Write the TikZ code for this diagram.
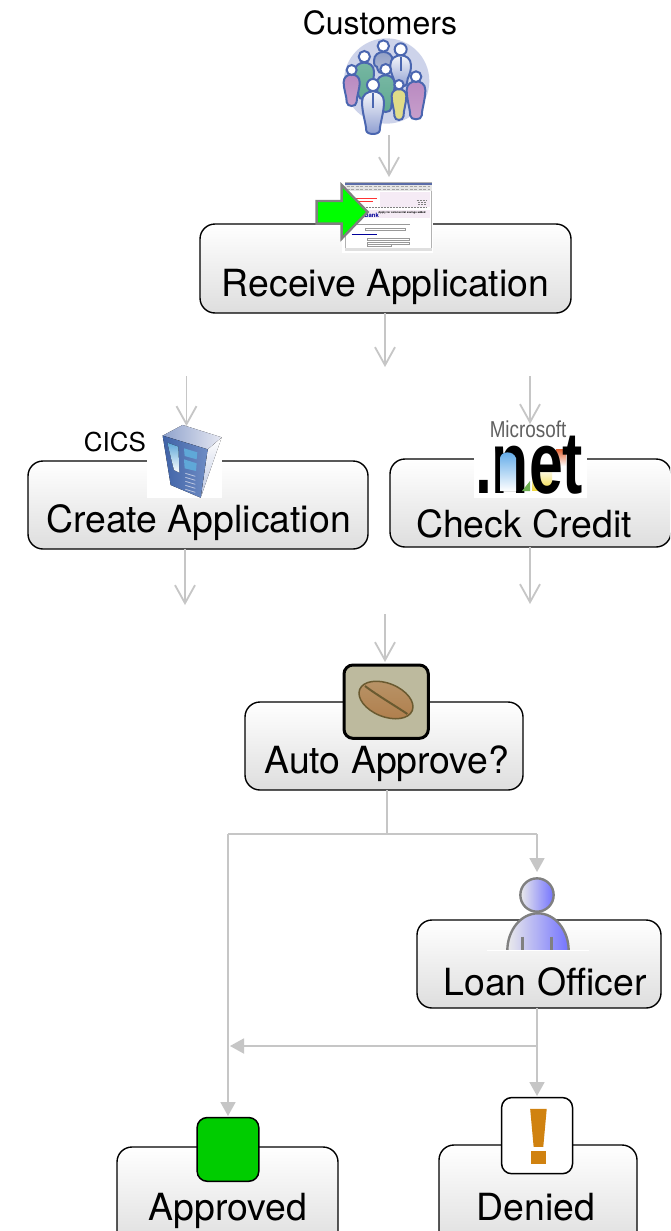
\documentclass[tikz,border=0pt]{standalone}
\usepackage{fontspec}
\setmainfont{TeX Gyre Heros}
\newfontfamily\netfont{Liberation Sans}
\usetikzlibrary{arrows.meta}
\definecolor{flowgray}{HTML}{C6C6C6}
\definecolor{peopleblue}{HTML}{4A66B0}
\definecolor{iconline}{HTML}{808080}
\definecolor{beanbg}{HTML}{BDBA9E}
\definecolor{excl}{HTML}{D08210}
\definecolor{crowdbg}{HTML}{CDD3EA}
\definecolor{pgray}{HTML}{8E9CC4}
\definecolor{pgrayl}{HTML}{B4BED8}
\definecolor{pteal}{HTML}{78B8A4}
\definecolor{ptealdark}{HTML}{5FA890}
\definecolor{ppurple}{HTML}{B888C0}
\definecolor{ppurplel}{HTML}{C8A0CC}
\definecolor{pyellow}{HTML}{E0DC88}
\definecolor{pwhite}{HTML}{8C9CD0}
\definecolor{srvdark}{HTML}{3F62A6}
\definecolor{srvmid}{HTML}{6E8CC4}
\definecolor{srvtop}{HTML}{8FA2CC}
\definecolor{srvlight}{HTML}{E6E8F2}
\definecolor{srvside}{HTML}{BCC6E0}
\definecolor{srvglass}{HTML}{5FA8D8}
\definecolor{beanlight}{HTML}{B89468}
\definecolor{beandark}{HTML}{B07E4C}
\definecolor{beanedge}{HTML}{6A5A30}
\definecolor{netblue}{HTML}{5CA8E8}
\definecolor{netgreen}{HTML}{6CB050}
\definecolor{netyellow}{HTML}{F0D840}
\definecolor{netred}{HTML}{E06030}
\definecolor{titlebar}{HTML}{5A6CA8}
\tikzset{
  stepbox/.style={draw=black,line width=1.4pt,rounded corners=15pt,top color=white,bottom color=black!13,anchor=north west,inner sep=0pt,outer sep=0pt},
  boxtext/.style={font=\fontsize{37.4}{40}\selectfont,anchor=base,inner sep=0pt},
  flow/.style={draw=flowgray,line width=1.8pt,-{Straight Barb[length=18pt,width=20pt,line width=1.8pt]}},
  solidflow/.style={draw=flowgray,line width=1.8pt,-{Triangle[length=14pt,width=15pt]}},
  plainflow/.style={draw=flowgray,line width=1.8pt},
  zoomed/.style={x=0.3333pt,y=-0.3333pt},
  zoomedsix/.style={x=0.3444pt,y=-0.3444pt}
}
% x, head y, head radius, body half width, body top, body bottom, top colour, bottom colour
\newcommand{\crowdperson}[8]{%
  \draw[draw=peopleblue,line width=2pt,top color=#7,bottom color=#8]
    ({#1-#4},{#5+#4})
    .. controls ({#1-#4},{#5-0.25*#4}) and ({#1+#4},{#5-0.25*#4}) .. ({#1+#4},{#5+#4})
    .. controls ({#1+#4},{#5+2*#4}) and ({#1+0.62*#4},{#6-30}) .. ({#1+0.62*#4},{#6-12})
    .. controls ({#1+0.62*#4},{#6+4}) and ({#1-0.62*#4},{#6+4}) .. ({#1-0.62*#4},{#6-12})
    .. controls ({#1-0.62*#4},{#6-30}) and ({#1-#4},{#5+2*#4}) .. cycle;
  \draw[draw=peopleblue,line width=2pt,fill=white] (#1,#2) circle (#3);
}
\begin{document}
\begin{tikzpicture}[x=1pt,y=-1pt]
\useasboundingbox (0,0) rectangle (670,1231);
\clip (0,0) rectangle (670,1231);
\fill[white] (0,0) rectangle (670,1231);

% boxes
\node[stepbox,minimum width=371pt,minimum height=89pt] (recv) at (200,224) {};
\node[stepbox,minimum width=340pt,minimum height=88pt] (create) at (28,461) {};
\node[stepbox,minimum width=281pt,minimum height=88pt] (check) at (390,459) {};
\node[stepbox,minimum width=278pt,minimum height=88pt] (auto) at (245,702) {};
\node[stepbox,minimum width=244pt,minimum height=88pt] (loan) at (417,920) {};
\node[stepbox,minimum width=221pt,minimum height=100pt] (appr) at (117,1147) {};
\node[stepbox,minimum width=198pt,minimum height=102pt] (deny) at (439,1145) {};

% customers icon
\begin{scope}[shift={(340,36)},zoomed]
  \fill[crowdbg] (140,135) circle (128);
  \crowdperson{130}{30}{17}{28}{46}{112}{pgray}{pgrayl}
  \crowdperson{73}{62}{17}{29}{78}{190}{pteal}{ptealdark}
  \crowdperson{182}{40}{18}{31}{56}{152}{white}{pwhite}
  \draw[peopleblue,line width=2.2pt] (182,62)--(182,106);
  \crowdperson{35}{102}{15}{24}{114}{210}{ppurple}{ppurplel}
  \crowdperson{137}{100}{16}{27}{116}{228}{pteal}{ptealdark}
  \crowdperson{228}{122}{16}{28}{134}{250}{ppurple}{ppurplel}
  \crowdperson{177}{146}{14}{22}{158}{252}{pyellow}{pyellow}
  \crowdperson{99}{147}{18}{33}{164}{294}{white}{pwhite}
  \draw[peopleblue,line width=2.2pt] (99,172)--(99,216);
\end{scope}
\node[font=\fontsize{32}{34}\selectfont,anchor=base,inner sep=0pt] (cust) at (380,35) {Customers};
\coordinate (custfoot) at (389,135);

% web form icon
\begin{scope}[shift={(290,0)},zoomed]
  \fill[white] (157,545) rectangle (430,760);
  \draw[fill=white,draw=gray!60,line width=0.8pt] (165,548) rectangle (425,752);
  \fill[titlebar] (165,548) rectangle (425,555);
  \fill[gray!20] (165,555) rectangle (425,572);
  \draw[gray!70,line width=0.6pt,dash pattern=on 3pt off 1.5pt] (170,560)--(420,560) (170,567)--(420,567);
  \fill[violet!8] (270,575) rectangle (420,620);
  \fill[violet!8] (200,630) rectangle (420,655);
  \draw[red!80,line width=0.9pt] (195,595)--(262,595) (195,605)--(250,605);
  \draw[gray,line width=0.6pt,dash pattern=on 2pt off 1pt] (380,600)--(412,600) (385,607)--(412,607) (385,613)--(412,613) (200,623)--(410,623);
  \node[text=blue!60!black,font=\bfseries\fontsize{6}{6}\selectfont,inner sep=0pt] (bank) at (245,646) {Bank};
  \node[font=\bfseries\fontsize{2.7}{3}\selectfont,inner sep=0pt] (apply) at (336,639) {Apply for commercial savings added};
  \draw[gray!80,line width=0.5pt] (190,672)--(360,672);
  \draw[gray!80,line width=0.6pt,fill=white] (225,684) rectangle (345,692) (232,716) rectangle (358,722) (232,726) rectangle (358,732) (232,734) rectangle (305,740);
  \draw[blue!60!black,line width=0.6pt] (185,704)--(260,704);
  \fill[gray!25] (165,744) rectangle (425,752);
  \draw[draw=iconline,line width=2.4pt,fill=green,line join=miter]
    (80,603) -- (155,603) -- (155,555) -- (233,636) -- (155,716) -- (155,671) -- (80,671) -- cycle;
\end{scope}

% server icon
\begin{scope}[shift={(80,370)},zoomed]
  \fill[white] (200,165) rectangle (425,383);
  \fill[top color=white,bottom color=srvside] (425,202) -- (383,238) -- (362,383) -- cycle;
  \fill[left color=srvtop,right color=srvlight] (248,197) -- (308,165) -- (425,202) -- (383,238) -- cycle;
  \fill[left color=srvdark,right color=srvmid] (248,197) -- (383,238) -- (362,383) -- (272,345) -- cycle;
  \fill[top color=srvglass,bottom color=white] (262,218) -- (295,230) -- (298,308) -- (282,300) -- cycle;
  \fill[srvglass] (312,235) -- (352,247) -- (350,268) -- (314,258) -- cycle;
  \fill[srvglass] (312,268) -- (350,280) -- (348,303) -- (314,295) -- cycle;
  \foreach \yy in {310,322,334,346,358}{\draw[srvside,line width=0.8pt] (316,\yy) -- (346,{\yy+9});}
\end{scope}
\node[font=\fontsize{26}{28}\selectfont,anchor=base,inner sep=0pt] (cics) at (115,451) {CICS};

% .net icon
\begin{scope}
  \fill[white] (474,418) rectangle (587,498);
  \fill[top color=white,bottom color=netyellow] (532,468) rectangle (552,490);
  \fill[top color=netred,bottom color=white] (556,449) rectangle (566,466);
  \node[text=gray!75!black,font=\netfont\fontsize{23}{24}\selectfont,inner sep=0pt] (ms) at (528,429) {\scalebox{0.82}[1]{Microsoft}};
  \node[font=\netfont\bfseries\fontsize{88}{90}\selectfont,anchor=base,inner sep=0pt] (netlogo) at (529,493.5) {\scalebox{0.69}[1]{.net}};
  \fill[top color=netblue,bottom color=white] (500,491) -- (500,458) .. controls (501,451) and (513,450) .. (516,458) -- (516,491) -- cycle;
  \fill[netgreen] (522,491) -- (530,481) -- (530,491) -- cycle;
\end{scope}

% coffee icon
\begin{scope}[shift={(320,650)},zoomed]
  \draw[black,line width=3pt,fill=beanbg,rounded corners=9pt] (72,45) rectangle (325,265);
  \draw[draw=beanedge,line width=1.5pt,top color=beanlight,bottom color=beandark] (198,150) ellipse [x radius=85,y radius=50,rotate=-22];
  \draw[beanedge,line width=2pt] (135,108) .. controls (170,135) and (230,170) .. (262,192);
\end{scope}

% officer icon
\begin{scope}[shift={(480,860)},zoomed]
  \draw[iconline,line width=2.4pt,left color=black!8,right color=blue!55] (82,272) arc[start angle=180,end angle=360,x radius=92,y radius=112];
  \draw[iconline,line width=2.4pt,left color=black!8,right color=blue!55] (171,105) circle (50);
  \draw[iconline,line width=2.4pt] (128,230)--(128,272) (215,230)--(215,272);
  \draw[white,line width=1pt] (20,272)--(328,272);
\end{scope}

% end-state icons
\begin{scope}[shift={(110,1090)},zoomedsix]
  \draw[black,line width=1.5pt,fill=green!80!black,rounded corners=10pt] (253,80) rectangle (432,265);
  \draw[black,line width=1.5pt,fill=white,rounded corners=10pt] (1137,22) rectangle (1343,243);
  \fill[excl] (1220,55) -- (1268,55) -- (1258,165) -- (1230,165) -- cycle;
  \fill[excl] (1222,178) rectangle (1266,214);
\end{scope}

% box labels
\node[boxtext] (recvt) at (385.5,296) {Receive Application};
\node[boxtext] (createt) at (198.5,532) {Create Application};
\node[boxtext] (checkt) at (524,537) {Check Credit};
\node[boxtext] (autot) at (387,773) {Auto Approve?};
\node[boxtext] (loant) at (545,995) {Loan Officer};
\node[boxtext] (apprt) at (228,1220) {Approved};
\node[boxtext] (denyt) at (536,1220) {Denied};

% free ends of connectors
\coordinate (recvin) at (389,177);
\coordinate (recvout) at (385,367);
\coordinate (createtop) at (186.5,376);
\coordinate (createin) at (186.5,426);
\coordinate (createout) at (185,605);
\coordinate (checktop) at (530,376);
\coordinate (checkin) at (530,424);
\coordinate (checkout) at (530,604);
\coordinate (autotop) at (385,614);
\coordinate (autoin) at (385,662);
\coordinate (split) at (387,834);
\coordinate (splitl) at (228,834);
\coordinate (splitr) at (537,834);
\coordinate (approvedin) at (228,1116);
\coordinate (officerin) at (537,872);
\coordinate (deniedin) at (537,1096);
\coordinate (merge) at (537,1046);
\coordinate (mergein) at (230,1046);

% connectors
\draw[flow] (custfoot) -- (recvin);
\draw[flow] (recv.south -| recvout) -- (recvout);
\draw[flow] (createtop) -- (createin);
\draw[flow] (create.south -| createout) -- (createout);
\draw[flow] (checktop) -- (checkin);
\draw[flow] (check.south -| checkout) -- (checkout);
\draw[flow] (autotop) -- (autoin);
\draw[plainflow] (auto.south -| split) -- (split);
\draw[plainflow] (splitl) -- (splitr);
\draw[solidflow] (splitl) -- (approvedin);
\draw[solidflow] (splitr) -- (officerin);
\draw[solidflow] (loan.south -| deniedin) -- (deniedin);
\draw[solidflow] (merge) -- (mergein);
\end{tikzpicture}
\end{document}
